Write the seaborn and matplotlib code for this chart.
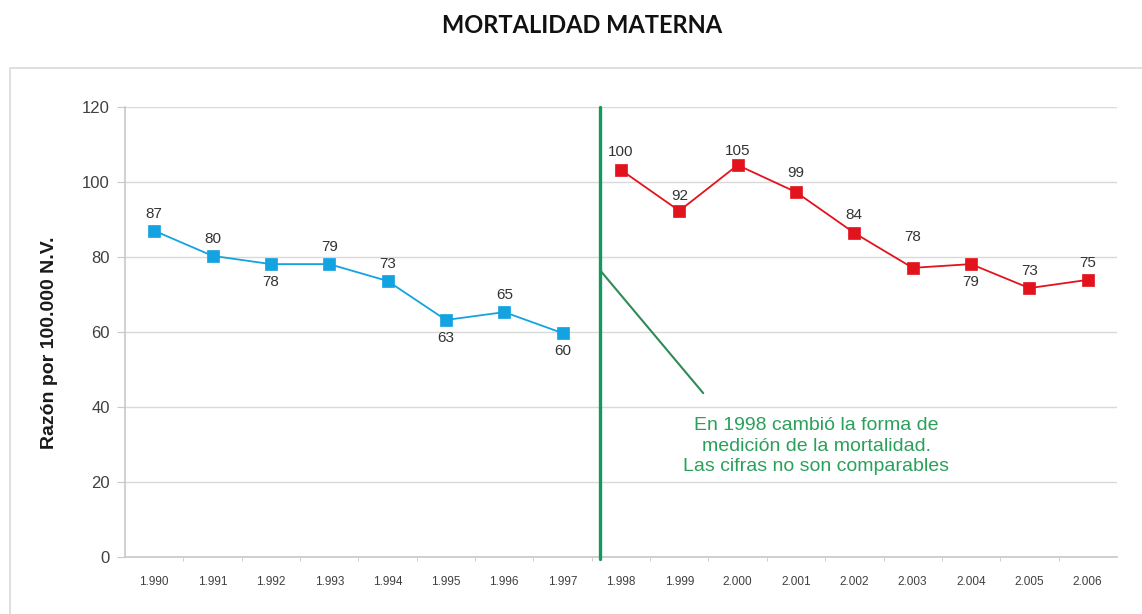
import matplotlib
matplotlib.use('Agg')
import matplotlib.pyplot as plt
import pandas as pd
import seaborn as sns
from matplotlib.patches import Rectangle

# Datos
anios_azul = [1990, 1991, 1992, 1993, 1994, 1995, 1996, 1997]
razon_azul = [87, 80.3, 78.1, 78.1, 73.6, 63.2, 65.3, 59.7]
etiquetas_azul = ['87', '80', '78', '79', '73', '63', '65', '60']

anios_rojo = [1998, 1999, 2000, 2001, 2002, 2003, 2004, 2005, 2006]
razon_rojo = [103.2, 92.3, 104.5, 97.3, 86.4, 77.1, 78.1, 71.7, 73.9]
etiquetas_rojo = ['100', '92', '105', '99', '84', '78', '79', '73', '75']

todos_anios = anios_azul + anios_rojo
etiquetas_x = [f'{a // 1000}.{a % 1000:03d}' for a in todos_anios]

# desplazamiento vertical de cada etiqueta (puntos)
despl_azul = [12, 12, -13, 12, 12, -13, 12, -13]
despl_rojo = [13, 11, 10, 14, 13, 22, -13, 12, 12]

df_azul = pd.DataFrame({'anio': anios_azul, 'razon': razon_azul})
df_rojo = pd.DataFrame({'anio': anios_rojo, 'razon': razon_rojo})

sns.set_style('white')
plt.rcParams['font.family'] = ['Liberation Sans', 'DejaVu Sans']

fig = plt.figure(figsize=(11.42, 6.14), dpi=100)
ax = fig.add_axes([0.1095, 0.0928, 0.8685, 0.733])

# marco gris alrededor del gráfico
fig.patches.append(Rectangle((0.009, -0.05), 1.05, 0.94, transform=fig.transFigure,
                             fill=False, edgecolor='#d9d9d9', linewidth=1.2))

azul = '#13a3e0'
rojo = '#e3131d'
sns.lineplot(data=df_azul, x='anio', y='razon', ax=ax, color=azul, linewidth=1.3,
             marker='s', markersize=8.5, markeredgecolor=azul, markeredgewidth=0.5)
sns.lineplot(data=df_rojo, x='anio', y='razon', ax=ax, color=rojo, linewidth=1.3,
             marker='s', markersize=8.5, markeredgecolor=rojo, markeredgewidth=0.5)

for x, y, t, d in zip(anios_azul, razon_azul, etiquetas_azul, despl_azul):
    ax.annotate(t, (x, y), xytext=(0, d), textcoords='offset points',
                ha='center', va='center', fontsize=11, color='#333333')
for x, y, t, d in zip(anios_rojo, razon_rojo, etiquetas_rojo, despl_rojo):
    ax.annotate(t, (x, y), xytext=(0, d), textcoords='offset points',
                ha='center', va='center', fontsize=11, color='#333333')

# línea de cambio de medición
verde = '#14995a'
ax.axvline(1997.64, color=verde, linewidth=2.4, ymin=-0.005, ymax=1, clip_on=False, zorder=5)
ax.plot([1997.64, 1999.41], [76.5, 43.7], color='#2e8b57', linewidth=1.5)
ax.text(2001.35, 29.6, 'En 1998 cambió la forma de\nmedición de la mortalidad.\nLas cifras no son comparables',
        ha='center', va='center', fontsize=14, color='#2aa05a', linespacing=1.25)

ax.set_xlim(1989.5, 2006.5)
ax.set_ylim(0, 120)
ax.set_yticks(range(0, 121, 20))
ax.set_xticks(todos_anios)
ax.set_xticklabels(etiquetas_x, fontsize=8.5, color='#404040')
ax.set_xticks([a + 0.5 for a in todos_anios[:-1]], minor=True)
ax.tick_params(axis='x', which='major', length=0, pad=14)
ax.tick_params(axis='x', which='minor', length=3, color='#c8c8c8', bottom=True)
ax.tick_params(axis='y', length=6, color='#c8c8c8', labelsize=12, labelcolor='#404040', pad=5, left=True)
ax.grid(axis='y', color='#d9d9d9', linewidth=1)
ax.set_axisbelow(True)
for s in ['top', 'right']:
    ax.spines[s].set_visible(False)
for s in ['left', 'bottom']:
    ax.spines[s].set_color('#c8c8c8')
    ax.spines[s].set_linewidth(1.2)

ax.set_xlabel('')
ax.set_ylabel('Razón por 100.000 N.V.', fontsize=14, fontweight='bold', color='#1a1a1a')
ax.yaxis.set_label_coords(-0.068, 0.476)

fig.text(0.51, 0.959, 'MORTALIDAD MATERNA', ha='center', va='center', fontsize=17,
         fontweight='bold', family=['Lato', 'DejaVu Sans'], color='#111111')

plt.savefig('out.png', dpi=100)
